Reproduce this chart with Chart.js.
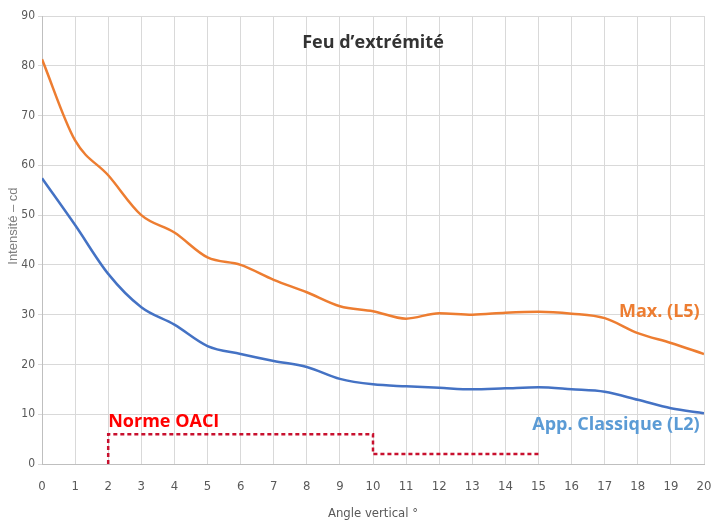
<!DOCTYPE html>
<html>
<head>
<meta charset="utf-8">
<script src="https://cdn.jsdelivr.net/npm/chart.js@4.4.1/dist/chart.umd.min.js"></script>
<style>
  html, body { margin: 0; padding: 0; background: #fff; }
  #wrap { width: 718px; height: 524px; }
</style>
</head>
<body>
<div id="wrap"><canvas id="c" width="718" height="524"></canvas></div>
<script>
// vertical angle in degrees
const angles = [0, 1, 2, 3, 4, 5, 6, 7, 8, 9, 10, 11, 12, 13, 14, 15, 16, 17, 18, 19, 20];
// intensity (cd), Max. (L5)
const maxL5 = [81.3, 65, 58, 50, 46.5, 41.5, 40, 37, 34.5, 31.7, 30.7, 29.2, 30.3, 30, 30.4, 30.6, 30.2, 29.3, 26.3, 24.3, 22.1];
// intensity (cd), App. Classique (L2)
const classicL2 = [57.4, 48, 38.2, 31.5, 28, 23.7, 22.1, 20.7, 19.5, 17.1, 16, 15.6, 15.3, 15, 15.2, 15.4, 15, 14.5, 12.9, 11.2, 10.2];
// ICAO minimum (stepped)
const normeX = [2, 2, 10, 10, 15];
const normeY = [0, 6, 6, 2, 2];

const narrow = '"Liberation Sans Narrow", "DejaVu Sans Condensed", "Liberation Sans", sans-serif';
const bold = '"Open Sans", "Noto Sans", sans-serif';

const toPts = (xs, ys) => xs.map((x, i) => ({ x: x, y: ys[i] }));

// free text drawn at data coordinates
const textLabels = [
  { text: 'Feu d\u2019extrémité', x: 10, y: 84.7, color: '#333333', align: 'center', size: 18 },
  { text: 'Norme OACI', x: 2, y: 8.4, color: '#ff0000', align: 'left', size: 18 },
  { text: 'Max. (L5)', x: 19.87, y: 30.6, color: '#ed7d31', align: 'right', size: 18 },
  { text: 'App. Classique (L2)', x: 19.87, y: 7.8, color: '#5b9bd5', align: 'right', size: 18 },
];

const labelPlugin = {
  id: 'labels',
  afterDatasetsDraw(chart) {
    const ctx = chart.ctx;
    const xs = chart.scales.x, ys = chart.scales.y;
    ctx.save();
    ctx.textBaseline = 'middle';
    textLabels.forEach(l => {
      ctx.font = 'bold ' + l.size + 'px ' + bold;
      ctx.fillStyle = l.color;
      ctx.textAlign = l.align;
      ctx.fillText(l.text, xs.getPixelForValue(l.x), ys.getPixelForValue(l.y));
    });
    // y axis title, sits a bit above the middle like the original
    ctx.translate(13, ys.getPixelForValue(47.8));
    ctx.rotate(-Math.PI / 2);
    ctx.font = '13px "Liberation Sans", sans-serif';
    ctx.fillStyle = '#7f7f7f';
    ctx.textAlign = 'center';
    ctx.fillText('Intensité \u2013 cd', 0, 0);
    ctx.restore();
  }
};

new Chart(document.getElementById('c').getContext('2d'), {
  type: 'line',
  data: {
    datasets: [
      {
        data: toPts(angles, maxL5),
        borderColor: '#ed7d31',
        borderWidth: 2.5,
        pointRadius: 0,
        cubicInterpolationMode: 'monotone',
        fill: false,
      },
      {
        data: toPts(angles, classicL2),
        borderColor: '#4472c4',
        borderWidth: 2.5,
        pointRadius: 0,
        cubicInterpolationMode: 'monotone',
        fill: false,
      },
      {
        data: toPts(normeX, normeY),
        borderColor: '#c8102e',
        borderWidth: 2.5,
        borderDash: [4, 3],
        pointRadius: 0,
        tension: 0,
        fill: false,
      },
    ],
  },
  options: {
    responsive: false,
    animation: false,
    layout: { padding: { top: 16, right: 14, left: 0, bottom: 0 } },
    plugins: { legend: { display: false }, tooltip: { enabled: false } },
    scales: {
      x: {
        type: 'linear',
        min: 0, max: 20,
        ticks: { stepSize: 1, color: '#595959', font: { family: narrow, size: 13 }, padding: 15 },
        grid: { color: '#d9d9d9', drawTicks: false },
        border: { color: '#bfbfbf' },
        title: { display: true, text: 'Angle vertical °', color: '#595959', font: { family: narrow, size: 13 }, padding: { top: 4, bottom: 3 } },
        afterFit(s) { s.height = 60; s.paddingRight = 0; s.paddingLeft = 0; },
      },
      y: {
        min: 0, max: 90,
        ticks: { stepSize: 10, color: '#595959', font: { family: narrow, size: 12 }, padding: 3 },
        grid: { color: '#d9d9d9', tickLength: 4 },
        border: { color: '#bfbfbf' },
        afterFit(s) { s.width = 42; },
      },
    },
  },
  plugins: [labelPlugin],
});
</script>
</body>
</html>
